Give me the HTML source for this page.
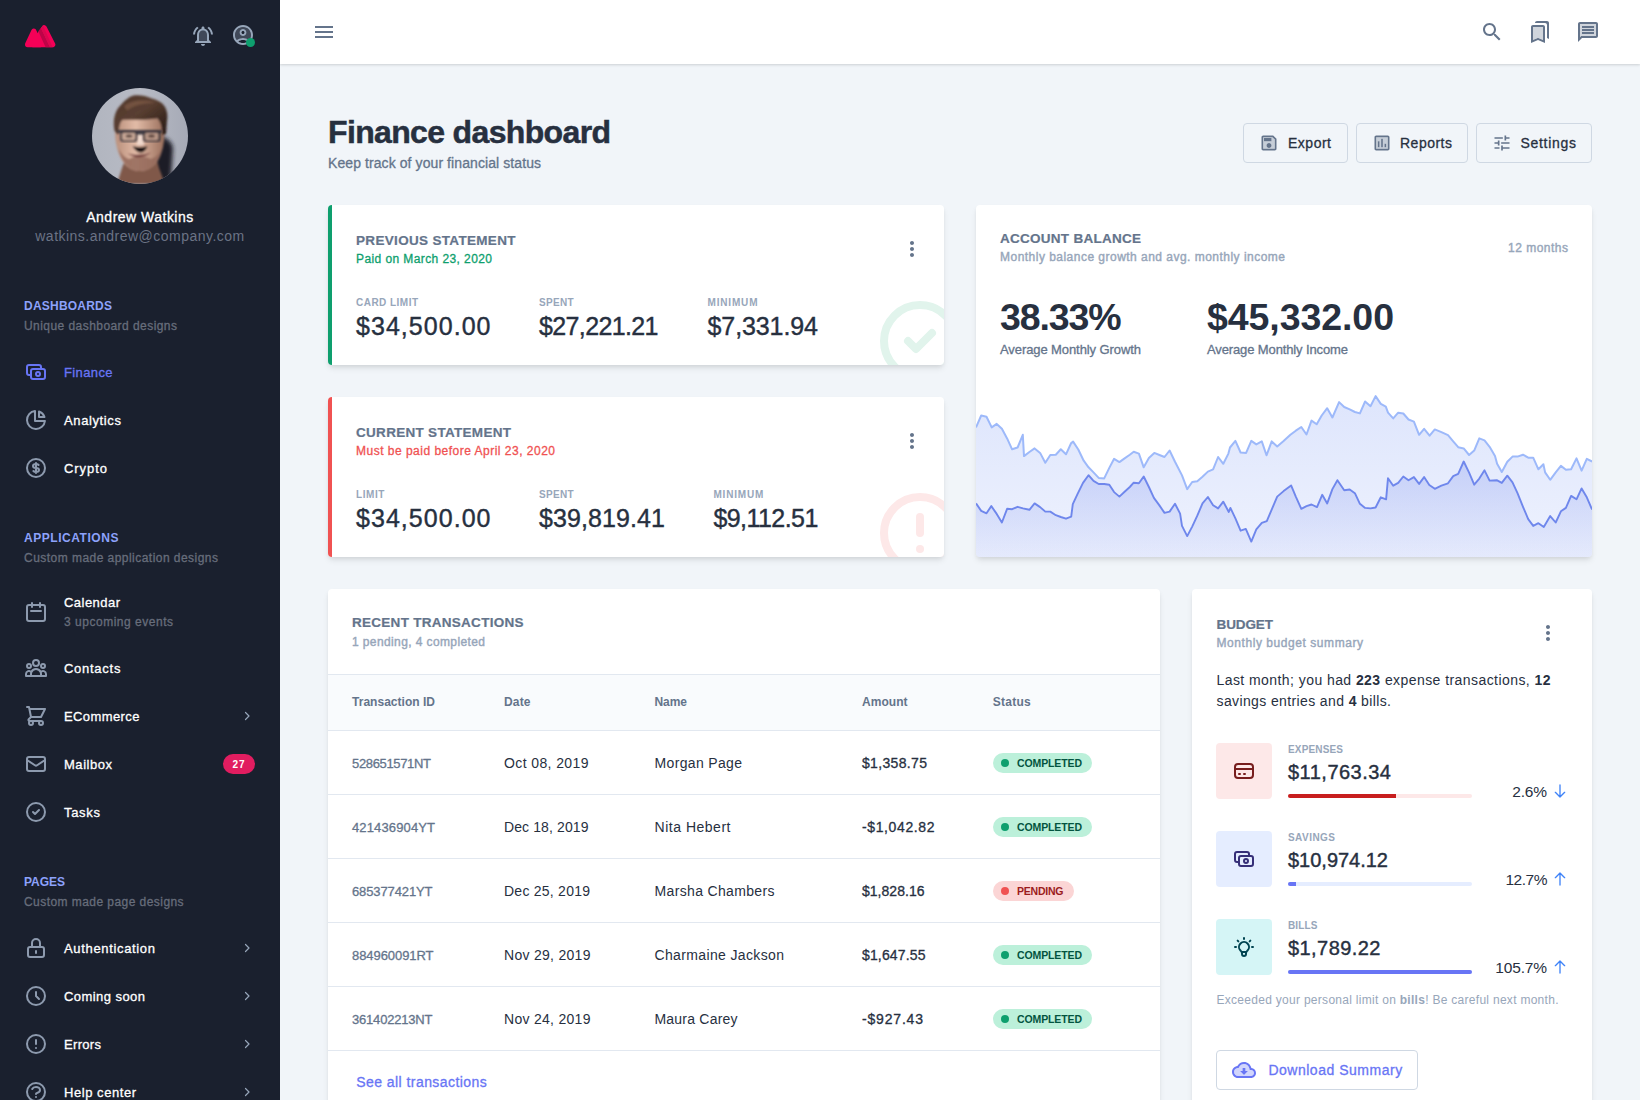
<!DOCTYPE html>
<html lang="en">
<head>
<meta charset="utf-8">
<title>Finance dashboard</title>
<style>
*{box-sizing:border-box;margin:0;padding:0}
html,body{width:1640px;height:1100px;overflow:hidden}
body{font-family:"Liberation Sans", sans-serif;background:#F1F5F9;color:#27303F;position:relative;-webkit-font-smoothing:antialiased}
.t{position:absolute;white-space:nowrap;display:block}
.abs{position:absolute}
.card{position:absolute;background:#fff;border-radius:4px;box-shadow:0 4px 6px -1px rgba(0,0,0,.1),0 2px 4px -1px rgba(0,0,0,.06);overflow:hidden}
.btn{position:absolute;border:1px solid #CFD8E3;border-radius:4px;height:40px}
.badge{position:absolute;height:20px;border-radius:10px}
.dot{position:absolute;width:8px;height:8px;border-radius:50%;left:8px;top:6px}
.row{position:absolute;left:0;width:832px;height:64px;border-bottom:1px solid #E2E8F0}
.bar{position:absolute;height:4px;border-radius:2px;overflow:hidden}
.bar i{position:absolute;left:0;top:0;height:4px;display:block}
.ibox{position:absolute;width:56px;height:56px;border-radius:4px}
</style>
</head>
<body>

<aside class="abs" style="left:0;top:0;width:280px;height:1100px;background:#1A202E;overflow:hidden;z-index:6">
<svg class="abs" style="left:24px;top:24px" width="32" height="24" viewBox="0 0 32 24"><g fill="#F50057" stroke="#F50057" stroke-width="5.400" stroke-linejoin="round"><path d="M3.700 20.500L9.800 7.300 16 20.500z"/><path d="M9 20.500L20.200 3.900 28.600 20.500z"/></g><path d="M14.300 7.300l2.600-3.200 9.100 19.200h-4.400z" fill="#BE0347"/><path d="M16.900 4.100l2.200-2.400 9.600 21.600H26z" fill="#DA0750"/></svg>
<svg style="position:absolute;left:191px;top:24px;" width="24" height="24" viewBox="0 0 24 24" fill="#97A6BA"><path d="M12 6.500c-2.490 0-4 2.020-4 4.500v6h8v-6c0-2.480-1.510-4.500-4-4.500z" opacity="0.3"/><path d="M12 22c1.100 0 2-.9 2-2h-4c0 1.100.9 2 2 2zm6-11c0-3.070-1.630-5.640-4.500-6.320V4c0-.83-.67-1.500-1.500-1.500s-1.500.67-1.500 1.500v.68C7.640 5.360 6 7.920 6 11v5l-2 2v1h16v-1l-2-2v-5zm-2 6H8v-6c0-2.480 1.510-4.500 4-4.500s4 2.020 4 4.500v6zM7.580 4.080L6.150 2.650C3.750 4.480 2.170 7.300 2.030 10.500h2c.15-2.650 1.510-4.970 3.550-6.420zm12.390 6.420h2c-.15-3.200-1.730-6.020-4.120-7.850l-1.420 1.430c2.020 1.450 3.390 3.770 3.540 6.420z"/></svg>
<svg style="position:absolute;left:231px;top:23px;" width="24" height="24" viewBox="0 0 24 24" fill="#97A6BA"><path d="M12 4c-4.420 0-8 3.580-8 8 0 1.950.7 3.730 1.860 5.120C7.550 15.800 9.680 15 12 15s4.450.8 6.140 2.120C19.300 15.730 20 13.950 20 12c0-4.420-3.580-8-8-8zm0 9c-1.940 0-3.500-1.560-3.500-3.500S10.060 6 12 6s3.500 1.560 3.500 3.500S13.940 13 12 13z" opacity="0.3"/><path d="M12 2C6.480 2 2 6.480 2 12s4.480 10 10 10 10-4.480 10-10S17.520 2 12 2zm0 18c-1.740 0-3.340-.56-4.650-1.500C8.660 17.560 10.260 17 12 17s3.340.56 4.650 1.500c-1.310.94-2.910 1.500-4.650 1.500zm6.140-2.880C16.450 15.800 14.320 15 12 15s-4.450.8-6.140 2.120C4.700 15.730 4 13.950 4 12c0-4.420 3.580-8 8-8s8 3.580 8 8c0 1.950-.7 3.730-1.860 5.120z"/><path d="M12 6c-1.940 0-3.500 1.560-3.500 3.500S10.060 13 12 13s3.500-1.560 3.500-3.500S13.940 6 12 6zm0 5c-.83 0-1.500-.67-1.500-1.500S11.170 8 12 8s1.500.67 1.500 1.500S12.830 11 12 11z"/></svg>
<span class="abs" style="left:246px;top:38px;width:9px;height:9px;border-radius:50%;background:#0E9F6E"></span>
<svg class="abs" style="left:92px;top:88px" width="96" height="96" viewBox="0 0 96 96">
<defs><clipPath id="av"><circle cx="48" cy="48" r="48"/></clipPath>
<filter id="bl" x="-10%" y="-10%" width="120%" height="120%"><feGaussianBlur stdDeviation="0.9"/></filter>
<filter id="bl2" x="-20%" y="-20%" width="140%" height="140%"><feGaussianBlur stdDeviation="2.2"/></filter>
<linearGradient id="avbg" x1="0" x2="1" y1="0" y2="0"><stop offset="0" stop-color="#B1B5BF"/><stop offset=".5" stop-color="#B8BBC5"/><stop offset="1" stop-color="#A6AAB6"/></linearGradient>
<linearGradient id="hair" x1="0" x2="1" y1="0" y2="1"><stop offset="0" stop-color="#4E362B"/><stop offset=".45" stop-color="#5A3F31"/><stop offset="1" stop-color="#241814"/></linearGradient>
<linearGradient id="skin" x1="0" x2="1" y1="0" y2="0"><stop offset="0" stop-color="#B98F7B"/><stop offset=".42" stop-color="#E2BBA7"/><stop offset="1" stop-color="#9A6F5C"/></linearGradient></defs>
<g clip-path="url(#av)">
<rect width="96" height="96" fill="url(#avbg)"/>
<g filter="url(#bl2)"><path d="M66 48c7 0 14 5 15 12l-2 32-18 8-4-22z" fill="#1F1C26"/></g>
<g filter="url(#bl)">
<path d="M30 80l3-8h32l2 8 6 16H25z" fill="#80594A"/>
<path d="M23.500 40c-1 8 .5 18 3.500 26 3.500 10 11 17 21 17s17.500-7 21-17c3-8 4-18 3-26-1-8-8-13-24.500-13S24.500 32 23.500 40z" fill="url(#skin)"/>
<path d="M26.500 60c2 13 10.500 23 21.500 23s19-9 21.500-22c-3 6-7 9-11 10-3-3.500-18-3.500-21 0-4-1-9-5-11-11z" fill="#94695A" opacity=".85"/>
<path d="M22.500 43c-2-11 0-21 7.700-27.600C35 10.500 39.500 7.500 43 7.300c6-.6 11 .8 16.200 3C65 12 69.500 14 72 17.400c3 4 4 10 3 15.300l-1 13.300-4 1c0-8-1-12.500-4.700-16.800-8 2-22 1.500-34.600 1.500C28 34 27 38 26.700 47z" fill="url(#hair)"/>
<path d="M32 18c8-6 21-7 31-3-9-.5-20 1.500-28 7.500z" fill="#7E5A47" opacity=".75"/>
<path d="M40.500 58c2 3.500 4.500 6.500 8 6.500s5.500-2.500 7-6.500c-3 1.500-11 1.500-15 0z" fill="#1E1312"/>
<path d="M35.500 65.500c7 5 17 5 23.500-1-6 2.500-16 3-23.500 1z" fill="#6E3838"/>
<path d="M45.500 44h5l1.500 13h-7z" fill="#F4E0D6" opacity=".85"/>
</g>
<g filter="url(#bl)" opacity=".95"><path d="M25 42h45v2.700h-1.500v6.800c0 1.400-1 2.300-2.300 2.300H53.500c-1.300 0-2.300-1-2.300-2.300V46.500h-6v5c0 1.400-1 2.300-2.300 2.300H30.500c-1.300 0-2.300-1-2.300-2.300V44.700H25z" fill="#34323A"/>
<rect x="30.200" y="45" width="13" height="7" rx="1.200" fill="#CBAA9A"/><rect x="53.200" y="45" width="13" height="7" rx="1.200" fill="#BC9A8A"/>
<ellipse cx="37" cy="48" rx="3.500" ry="1.600" fill="#4A3630"/><ellipse cx="59.500" cy="48" rx="3.500" ry="1.600" fill="#4A3630"/></g>
</g></svg>
<span class="t" style="left:140px;transform:translateX(-50%);top:206.50px;font-size:14px;line-height:21px;color:#fff;letter-spacing:0.490px;-webkit-text-stroke:0.3px #fff;">Andrew Watkins</span>
<span class="t" style="left:140px;transform:translateX(-50%);top:225.50px;font-size:14px;line-height:21px;color:#6B7385;letter-spacing:0.487px;">watkins.andrew@company.com</span>
<span class="t" style="left:24px;top:297.00px;font-size:12px;line-height:18px;color:#8DA2FB;font-weight:700;letter-spacing:0.220px;">DASHBOARDS</span>
<span class="t" style="left:24px;top:317.00px;font-size:12px;line-height:18px;color:#676D7B;letter-spacing:0.444px;-webkit-text-stroke:0.3px #676D7B;">Unique dashboard designs</span>
<svg style="position:absolute;left:24px;top:360px;" width="24" height="24" viewBox="0 0 24 24" fill="none" stroke="#6875F5" stroke-width="2" stroke-linecap="round" stroke-linejoin="round"><path d="M17 9V7a2 2 0 00-2-2H5a2 2 0 00-2 2v6a2 2 0 002 2h2m2 4h10a2 2 0 002-2v-6a2 2 0 00-2-2H9a2 2 0 00-2 2v6a2 2 0 002 2zm7-5a2 2 0 11-4 0 2 2 0 014 0z"/></svg>
<span class="t" style="left:64px;top:362.50px;font-size:13px;line-height:20px;color:#6875F5;letter-spacing:0.375px;-webkit-text-stroke:0.3px #6875F5;">Finance</span>
<svg style="position:absolute;left:24px;top:408px;" width="24" height="24" viewBox="0 0 24 24" fill="none" stroke="#8D9AAE" stroke-width="2" stroke-linecap="round" stroke-linejoin="round"><path d="M11 3.055A9.001 9.001 0 1020.945 13H11V3.055z M20.488 9H15V3.512A9.025 9.025 0 0120.488 9z"/></svg>
<span class="t" style="left:64px;top:410.50px;font-size:13px;line-height:20px;color:#fff;letter-spacing:0.621px;-webkit-text-stroke:0.3px #fff;">Analytics</span>
<svg style="position:absolute;left:24px;top:456px;" width="24" height="24" viewBox="0 0 24 24" fill="none" stroke="#8D9AAE" stroke-width="2" stroke-linecap="round" stroke-linejoin="round"><path d="M12 8c-1.657 0-3 .895-3 2s1.343 2 3 2 3 .895 3 2-1.343 2-3 2m0-8c1.11 0 2.08.402 2.599 1M12 8V7m0 1v8m0 0v1m0-1c-1.11 0-2.08-.402-2.599-1M21 12a9 9 0 11-18 0 9 9 0 0118 0z"/></svg>
<span class="t" style="left:64px;top:458.50px;font-size:13px;line-height:20px;color:#fff;letter-spacing:0.941px;-webkit-text-stroke:0.3px #fff;">Crypto</span>
<span class="t" style="left:24px;top:529.00px;font-size:12px;line-height:18px;color:#8DA2FB;font-weight:700;letter-spacing:0.541px;">APPLICATIONS</span>
<span class="t" style="left:24px;top:549.00px;font-size:12px;line-height:18px;color:#676D7B;letter-spacing:0.463px;-webkit-text-stroke:0.3px #676D7B;">Custom made application designs</span>
<svg style="position:absolute;left:24px;top:600px;" width="24" height="24" viewBox="0 0 24 24" fill="none" stroke="#8D9AAE" stroke-width="2" stroke-linecap="round" stroke-linejoin="round"><path d="M8 7V3m8 4V3m-9 8h10M5 21h14a2 2 0 002-2V7a2 2 0 00-2-2H5a2 2 0 00-2 2v12a2 2 0 002 2z"/></svg>
<span class="t" style="left:64px;top:592.50px;font-size:13px;line-height:20px;color:#fff;letter-spacing:0.462px;-webkit-text-stroke:0.3px #fff;">Calendar</span>
<span class="t" style="left:64px;top:613.00px;font-size:12px;line-height:18px;color:#676D7B;letter-spacing:0.517px;-webkit-text-stroke:0.3px #676D7B;">3 upcoming events</span>
<svg style="position:absolute;left:24px;top:656px;" width="24" height="24" viewBox="0 0 24 24" fill="none" stroke="#8D9AAE" stroke-width="2" stroke-linecap="round" stroke-linejoin="round"><path d="M17 20h5v-2a3 3 0 00-5.356-1.857M17 20H7m10 0v-2c0-.656-.126-1.283-.356-1.857M7 20H2v-2a3 3 0 015.356-1.857M7 20v-2c0-.656.126-1.283.356-1.857m0 0a5.002 5.002 0 019.288 0M15 7a3 3 0 11-6 0 3 3 0 016 0zm6 3a2 2 0 11-4 0 2 2 0 014 0zM7 10a2 2 0 11-4 0 2 2 0 014 0z"/></svg>
<span class="t" style="left:64px;top:658.50px;font-size:13px;line-height:20px;color:#fff;letter-spacing:0.727px;-webkit-text-stroke:0.3px #fff;">Contacts</span>
<svg style="position:absolute;left:24px;top:704px;" width="24" height="24" viewBox="0 0 24 24" fill="none" stroke="#8D9AAE" stroke-width="2" stroke-linecap="round" stroke-linejoin="round"><path d="M3 3h2l.4 2M7 13h10l4-8H5.4M7 13L5.4 5M7 13l-2.293 2.293c-.63.63-.184 1.707.707 1.707H17m0 0a2 2 0 100 4 2 2 0 000-4zm-8 2a2 2 0 11-4 0 2 2 0 014 0z"/></svg>
<span class="t" style="left:64px;top:706.50px;font-size:13px;line-height:20px;color:#fff;letter-spacing:0.394px;-webkit-text-stroke:0.3px #fff;">ECommerce</span>
<svg style="position:absolute;left:241px;top:710px;" width="12" height="12" viewBox="0 0 24 24" fill="none" stroke="#97A6BA" stroke-width="2.4" stroke-linecap="round" stroke-linejoin="round"><path d="M9 5l7 7-7 7"/></svg>
<svg style="position:absolute;left:24px;top:752px;" width="24" height="24" viewBox="0 0 24 24" fill="none" stroke="#8D9AAE" stroke-width="2" stroke-linecap="round" stroke-linejoin="round"><path d="M3 8l7.89 5.26a2 2 0 002.22 0L21 8M5 19h14a2 2 0 002-2V7a2 2 0 00-2-2H5a2 2 0 00-2 2v10a2 2 0 002 2z"/></svg>
<span class="t" style="left:64px;top:754.50px;font-size:13px;line-height:20px;color:#fff;letter-spacing:0.534px;-webkit-text-stroke:0.3px #fff;">Mailbox</span>
<span class="abs" style="left:223px;top:754px;width:32px;height:20px;border-radius:10px;background:#E11D60"></span>
<span class="t" style="left:239px;transform:translateX(-50%);top:756.50px;font-size:10px;line-height:15px;color:#fff;font-weight:700;letter-spacing:0.875px;">27</span>
<svg style="position:absolute;left:24px;top:800px;" width="24" height="24" viewBox="0 0 24 24" fill="none" stroke="#8D9AAE" stroke-width="2" stroke-linecap="round" stroke-linejoin="round"><path d="M9 12l2 2 4-4m6 2a9 9 0 11-18 0 9 9 0 0118 0z"/></svg>
<span class="t" style="left:64px;top:802.50px;font-size:13px;line-height:20px;color:#fff;letter-spacing:0.691px;-webkit-text-stroke:0.3px #fff;">Tasks</span>
<span class="t" style="left:24px;top:873.00px;font-size:12px;line-height:18px;color:#8DA2FB;font-weight:700;letter-spacing:-0.031px;">PAGES</span>
<span class="t" style="left:24px;top:893.00px;font-size:12px;line-height:18px;color:#676D7B;letter-spacing:0.443px;-webkit-text-stroke:0.3px #676D7B;">Custom made page designs</span>
<svg style="position:absolute;left:24px;top:936px;" width="24" height="24" viewBox="0 0 24 24" fill="none" stroke="#8D9AAE" stroke-width="2" stroke-linecap="round" stroke-linejoin="round"><path d="M12 15v2m-6 4h12a2 2 0 002-2v-6a2 2 0 00-2-2H6a2 2 0 00-2 2v6a2 2 0 002 2zm10-10V7a4 4 0 00-8 0v4h8z"/></svg>
<span class="t" style="left:64px;top:938.50px;font-size:13px;line-height:20px;color:#fff;letter-spacing:0.661px;-webkit-text-stroke:0.3px #fff;">Authentication</span>
<svg style="position:absolute;left:241px;top:942px;" width="12" height="12" viewBox="0 0 24 24" fill="none" stroke="#97A6BA" stroke-width="2.4" stroke-linecap="round" stroke-linejoin="round"><path d="M9 5l7 7-7 7"/></svg>
<svg style="position:absolute;left:24px;top:984px;" width="24" height="24" viewBox="0 0 24 24" fill="none" stroke="#8D9AAE" stroke-width="2" stroke-linecap="round" stroke-linejoin="round"><path d="M12 8v4l3 3m6-3a9 9 0 11-18 0 9 9 0 0118 0z"/></svg>
<span class="t" style="left:64px;top:986.50px;font-size:13px;line-height:20px;color:#fff;letter-spacing:0.439px;-webkit-text-stroke:0.3px #fff;">Coming soon</span>
<svg style="position:absolute;left:241px;top:990px;" width="12" height="12" viewBox="0 0 24 24" fill="none" stroke="#97A6BA" stroke-width="2.4" stroke-linecap="round" stroke-linejoin="round"><path d="M9 5l7 7-7 7"/></svg>
<svg style="position:absolute;left:24px;top:1032px;" width="24" height="24" viewBox="0 0 24 24" fill="none" stroke="#8D9AAE" stroke-width="2" stroke-linecap="round" stroke-linejoin="round"><path d="M12 8v4m0 4h.01M21 12a9 9 0 11-18 0 9 9 0 0118 0z"/></svg>
<span class="t" style="left:64px;top:1034.50px;font-size:13px;line-height:20px;color:#fff;letter-spacing:0.322px;-webkit-text-stroke:0.3px #fff;">Errors</span>
<svg style="position:absolute;left:241px;top:1038px;" width="12" height="12" viewBox="0 0 24 24" fill="none" stroke="#97A6BA" stroke-width="2.4" stroke-linecap="round" stroke-linejoin="round"><path d="M9 5l7 7-7 7"/></svg>
<svg style="position:absolute;left:24px;top:1080px;" width="24" height="24" viewBox="0 0 24 24" fill="none" stroke="#8D9AAE" stroke-width="2" stroke-linecap="round" stroke-linejoin="round"><path d="M8.228 9c.549-1.165 2.03-2 3.772-2 2.21 0 4 1.343 4 3 0 1.4-1.278 2.575-3.006 2.907-.542.104-.994.54-.994 1.093m0 3h.01M21 12a9 9 0 11-18 0 9 9 0 0118 0z"/></svg>
<span class="t" style="left:64px;top:1082.50px;font-size:13px;line-height:20px;color:#fff;letter-spacing:0.552px;-webkit-text-stroke:0.3px #fff;">Help center</span>
<svg style="position:absolute;left:241px;top:1086px;" width="12" height="12" viewBox="0 0 24 24" fill="none" stroke="#97A6BA" stroke-width="2.4" stroke-linecap="round" stroke-linejoin="round"><path d="M9 5l7 7-7 7"/></svg>
</aside>
<header class="abs" style="left:280px;top:0;width:1360px;height:64px;background:#fff;box-shadow:0 1px 3px rgba(0,0,0,.1),0 1px 2px rgba(0,0,0,.06);z-index:5">
<svg style="position:absolute;left:32px;top:20px;" width="24" height="24" viewBox="0 0 24 24" fill="#64748B"><path d="M3 18h18v-2H3v2zm0-5h18v-2H3v2zm0-7v2h18V6H3z"/></svg>
<svg style="position:absolute;left:1200px;top:20px;" width="24" height="24" viewBox="0 0 24 24" fill="#64748B"><path d="M15.5 14h-.79l-.28-.27C15.41 12.59 16 11.11 16 9.5 16 5.91 13.09 3 9.5 3S3 5.91 3 9.5 5.91 16 9.5 16c1.61 0 3.09-.59 4.23-1.57l.27.28v.79l5 4.99L20.49 19l-4.99-5zm-6 0C7.01 14 5 11.99 5 9.5S7.01 5 9.5 5 14 7.01 14 9.5 11.99 14 9.5 14z"/></svg>
<svg style="position:absolute;left:1248px;top:20px;" width="24" height="24" viewBox="0 0 24 24" fill="#64748B"><path d="M19 1H8.99C7.89 1 7 1.9 7 3h10c1.1 0 2 .9 2 2v13l2 1V3c0-1.1-.9-2-2-2z"/><path d="M15 5H5c-1.1 0-2 .9-2 2v16l7-3 7 3V7c0-1.1-.9-2-2-2zm0 14.97l-4.21-1.81-.79-.34-.79.34L5 19.97V7h10v12.970z"/><path d="M5 19.97l5-2.150 5 2.150V7H5z" opacity="0.3"/></svg>
<svg style="position:absolute;left:1296px;top:20px;" width="24" height="24" viewBox="0 0 24 24" fill="#64748B"><path d="M20 2H4c-1.1 0-2 .9-2 2v18l4-4h14c1.1 0 2-.9 2-2V4c0-1.1-.9-2-2-2zm0 14H5.170L4 17.170V4h16v12z"/><path d="M4 4v13.170L5.170 16H20V4H4zm14 10H6v-2h12v2zm0-3H6V9h12v2zm0-3H6V6h12v2z" opacity="0.3"/><path d="M6 12h12v2H6zm0-3h12v2H6zm0-3h12v2H6z"/></svg>
</header>
<main class="abs" style="left:0;top:0;width:1640px;height:1100px">
<span class="t" style="left:328px;top:112.00px;font-size:32px;line-height:40px;color:#27303F;font-weight:700;letter-spacing:-0.649px;-webkit-text-stroke:0.5px #27303F;">Finance dashboard</span>
<span class="t" style="left:328px;top:152.50px;font-size:14px;line-height:21px;color:#64748B;letter-spacing:0.085px;-webkit-text-stroke:0.3px #64748B;">Keep track of your financial status</span>
<div class="btn" style="left:1243px;top:123px;width:104.5px">
<svg style="position:absolute;left:15px;top:9px;" width="20" height="20" viewBox="0 0 24 24" fill="#64748B"><path d="M5 5v14h14V7.830L16.170 5H5zm7 13c-1.660 0-3-1.340-3-3s1.340-3 3-3 3 1.340 3 3-1.340 3-3 3zm3-8H6V6h9v4z" opacity="0.3"/><path d="M17 3H5c-1.110 0-2 .9-2 2v14c0 1.100.89 2 2 2h14c1.100 0 2-.9 2-2V7l-4-4zm2 16H5V5h11.170L19 7.830V19zm-7-7c-1.660 0-3 1.340-3 3s1.340 3 3 3 3-1.340 3-3-1.340-3-3-3zM6 6h9v4H6z"/></svg>
<span class="t" style="left:44px;top:8.50px;font-size:14px;line-height:21px;color:#27303F;letter-spacing:0.506px;-webkit-text-stroke:0.3px #27303F;">Export</span>
</div>
<div class="btn" style="left:1356px;top:123px;width:111.5px">
<svg style="position:absolute;left:15px;top:9px;" width="20" height="20" viewBox="0 0 24 24" fill="#64748B"><path d="M5 5v14h14V5H5zm4 12H7v-7h2v7zm4 0h-2V7h2v10zm4 0h-2v-4h2v4z" opacity="0.3"/><path d="M19 3H5c-1.100 0-2 .9-2 2v14c0 1.100.9 2 2 2h14c1.100 0 2-.9 2-2V5c0-1.100-.9-2-2-2zm0 16H5V5h14v14zM7 10h2v7H7zm4-3h2v10h-2zm4 6h2v4h-2z"/></svg>
<span class="t" style="left:43px;top:8.50px;font-size:14px;line-height:21px;color:#27303F;letter-spacing:0.495px;-webkit-text-stroke:0.3px #27303F;">Reports</span>
</div>
<div class="btn" style="left:1476px;top:123px;width:116px">
<svg style="position:absolute;left:15px;top:9px;" width="20" height="20" viewBox="0 0 24 24" fill="#64748B"><path d="M3 17v2h6v-2H3zM3 5v2h10V5H3zm10 16v-2h8v-2h-8v-2h-2v6h2zM7 9v2H3v2h4v2h2V9H7zm14 4v-2H11v2h10zm-6-4h2V7h4V5h-4V3h-2v6z"/></svg>
<span class="t" style="left:43.5px;top:8.50px;font-size:14px;line-height:21px;color:#27303F;letter-spacing:0.701px;-webkit-text-stroke:0.3px #27303F;">Settings</span>
</div>
<section class="card" style="left:328px;top:205px;width:616px;height:160px">
<span class="abs" style="left:0;top:0;width:4px;height:160px;background:#0E9F6E"></span>
<span class="t" style="left:28px;top:25.50px;font-size:13.5px;line-height:20px;color:#64748B;font-weight:700;letter-spacing:0.323px;-webkit-text-stroke:0.2px #64748B;">PREVIOUS STATEMENT</span>
<span class="t" style="left:28px;top:45.00px;font-size:12px;line-height:18px;color:#0E9F6E;letter-spacing:0.408px;-webkit-text-stroke:0.3px #0E9F6E;">Paid on March 23, 2020</span>
<svg style="position:absolute;left:572px;top:32px;" width="24" height="24" viewBox="0 0 24 24" fill="#64748B"><path d="M12 8c1.100 0 2-.9 2-2s-.9-2-2-2-2 .9-2 2 .9 2 2 2zm0 2c-1.100 0-2 .9-2 2s.9 2 2 2 2-.9 2-2-.9-2-2-2zm0 6c-1.100 0-2 .9-2 2s.9 2 2 2 2-.9 2-2-.9-2-2-2z"/></svg>
<span class="t" style="left:28px;top:90.00px;font-size:10px;line-height:15px;color:#97A6BA;font-weight:700;letter-spacing:0.469px;">CARD LIMIT</span>
<span class="t" style="left:28px;top:105.00px;font-size:25px;line-height:32px;color:#27303F;letter-spacing:1.042px;-webkit-text-stroke:0.4px #27303F;">$34,500.00</span>
<span class="t" style="left:211px;top:90.00px;font-size:10px;line-height:15px;color:#97A6BA;font-weight:700;letter-spacing:0.289px;">SPENT</span>
<span class="t" style="left:211px;top:105.00px;font-size:25px;line-height:32px;color:#27303F;letter-spacing:-0.625px;-webkit-text-stroke:0.4px #27303F;">$27,221.21</span>
<span class="t" style="left:379.5px;top:90.00px;font-size:10px;line-height:15px;color:#97A6BA;font-weight:700;letter-spacing:0.833px;">MINIMUM</span>
<span class="t" style="left:379.5px;top:105.00px;font-size:25px;line-height:32px;color:#27303F;letter-spacing:-0.090px;-webkit-text-stroke:0.4px #27303F;">$7,331.94</span>
<svg style="position:absolute;left:544px;top:88px;" width="96" height="96" viewBox="0 0 24 24" fill="none" stroke="#E1F4EC" stroke-width="2" stroke-linecap="round" stroke-linejoin="round"><path d="M9 12l2 2 4-4m6 2a9 9 0 11-18 0 9 9 0 0118 0z"/></svg>
</section>
<section class="card" style="left:328px;top:397px;width:616px;height:160px">
<span class="abs" style="left:0;top:0;width:4px;height:160px;background:#F05252"></span>
<span class="t" style="left:28px;top:25.50px;font-size:13.5px;line-height:20px;color:#64748B;font-weight:700;letter-spacing:0.297px;-webkit-text-stroke:0.2px #64748B;">CURRENT STATEMENT</span>
<span class="t" style="left:28px;top:45.00px;font-size:12px;line-height:18px;color:#F05252;letter-spacing:0.491px;-webkit-text-stroke:0.3px #F05252;">Must be paid before April 23, 2020</span>
<svg style="position:absolute;left:572px;top:32px;" width="24" height="24" viewBox="0 0 24 24" fill="#64748B"><path d="M12 8c1.100 0 2-.9 2-2s-.9-2-2-2-2 .9-2 2 .9 2 2 2zm0 2c-1.100 0-2 .9-2 2s.9 2 2 2 2-.9 2-2-.9-2-2-2zm0 6c-1.100 0-2 .9-2 2s.9 2 2 2 2-.9 2-2-.9-2-2-2z"/></svg>
<span class="t" style="left:28px;top:90.00px;font-size:10px;line-height:15px;color:#97A6BA;font-weight:700;letter-spacing:0.573px;">LIMIT</span>
<span class="t" style="left:28px;top:105.00px;font-size:25px;line-height:32px;color:#27303F;letter-spacing:1.042px;-webkit-text-stroke:0.4px #27303F;">$34,500.00</span>
<span class="t" style="left:211px;top:90.00px;font-size:10px;line-height:15px;color:#97A6BA;font-weight:700;letter-spacing:0.289px;">SPENT</span>
<span class="t" style="left:211px;top:105.00px;font-size:25px;line-height:32px;color:#27303F;letter-spacing:0.097px;-webkit-text-stroke:0.4px #27303F;">$39,819.41</span>
<span class="t" style="left:385.4px;top:90.00px;font-size:10px;line-height:15px;color:#97A6BA;font-weight:700;letter-spacing:0.833px;">MINIMUM</span>
<span class="t" style="left:385.4px;top:105.00px;font-size:25px;line-height:32px;color:#27303F;letter-spacing:-0.547px;-webkit-text-stroke:0.4px #27303F;">$9,112.51</span>
<svg style="position:absolute;left:544px;top:88px;" width="96" height="96" viewBox="0 0 24 24" fill="none" stroke="#FDE8E8" stroke-width="2" stroke-linecap="round" stroke-linejoin="round"><path d="M12 8v4m0 4h.01M21 12a9 9 0 11-18 0 9 9 0 0118 0z"/></svg>
</section>
<section class="card" style="left:976px;top:205px;width:616px;height:352px">
<span class="t" style="left:24px;top:23.75px;font-size:13.5px;line-height:20px;color:#64748B;font-weight:700;letter-spacing:0.268px;-webkit-text-stroke:0.2px #64748B;">ACCOUNT BALANCE</span>
<span class="t" style="left:24px;top:43.00px;font-size:12px;line-height:18px;color:#97A6BA;letter-spacing:0.478px;-webkit-text-stroke:0.4px #97A6BA;">Monthly balance growth and avg. monthly income</span>
<span class="t" style="left:532px;top:34.00px;font-size:12px;line-height:18px;color:#97A6BA;letter-spacing:0.494px;-webkit-text-stroke:0.4px #97A6BA;">12 months</span>
<span class="t" style="left:24px;top:90.00px;font-size:37.5px;line-height:44px;color:#27303F;font-weight:700;letter-spacing:-1.137px;">38.33%</span>
<span class="t" style="left:231px;top:90.00px;font-size:37.5px;line-height:44px;color:#27303F;font-weight:700;letter-spacing:-0.076px;">$45,332.00</span>
<span class="t" style="left:24px;top:135.10px;font-size:13px;line-height:20px;color:#64748B;letter-spacing:-0.088px;-webkit-text-stroke:0.3px #64748B;">Average Monthly Growth</span>
<span class="t" style="left:231px;top:135.10px;font-size:13px;line-height:20px;color:#64748B;letter-spacing:-0.122px;-webkit-text-stroke:0.3px #64748B;">Average Monthly Income</span>
<svg class="abs" style="left:0;top:0" width="616" height="352" viewBox="0 0 616 352">
<defs>
<linearGradient id="g1" x1="0" y1="0" x2="0" y2="1"><stop offset="0" stop-color="#CED9FB" stop-opacity=".68"/><stop offset="1" stop-color="#CED9FB" stop-opacity=".34"/></linearGradient>
<linearGradient id="g2" x1="0" y1="0" x2="0" y2="1"><stop offset="0" stop-color="#667EEA" stop-opacity=".25"/><stop offset="1" stop-color="#667EEA" stop-opacity=".07"/></linearGradient>
</defs>
<path d="M0,222.4 L5.2,210.5 L10.5,211.8 L15.7,222.4 L20.7,218.9 L25.9,223.8 L31.1,233.4 L36.1,244.3 L41.6,242.5 L46.8,229.8 L48,251.1 L53.4,247 L58.6,243.4 L64.1,247.9 L69.3,257.8 L74.3,250 L79.8,249.7 L84.8,244.3 L90,249.3 L95.2,238 L97.1,236.6 L102.3,244.5 L107.7,255.7 L112.5,262.3 L117.5,267.4 L122.7,272.9 L128.2,273.4 L133.3,262.9 L138.1,253.8 L143.4,257.1 L148.6,253.4 L153.8,249.7 L157.7,246.7 L162.9,248.6 L167.7,262.3 L172.9,253 L178.3,247.9 L183.4,250 L188.5,252 L193.6,245.5 L199,256.8 L206,270.4 L211.2,284.1 L216.2,277 L221.3,276.2 L226.5,271.8 L231.9,266.6 L237.1,264.4 L242.1,252 L247.3,258.8 L252.4,248.6 L254,242.5 L259.4,235.9 L264.6,247.5 L270.1,247.9 L275.3,235.9 L280.3,239.4 L285.8,236.4 L290.5,250.3 L295.7,236.4 L301.2,241.5 L307.6,236.1 L314.4,229.8 L319.8,225.7 L325.3,222 L330.5,229.5 L335.5,215.6 L340.7,219.3 L345.7,210.5 L351.2,203.2 L356.4,212.5 L363.1,197.1 L368.2,202 L373.7,204.3 L378.9,207 L383.9,208.4 L389.1,196.5 L394.5,201.2 L399.6,191.1 L404.8,198.9 L409.8,201.6 L412,207.7 L417.2,213.4 L422.2,207.7 L427.3,208.5 L432.5,214.5 L437.9,216.6 L443.1,229.8 L448.1,223.8 L453.6,230.6 L458.8,224.4 L465.4,227.1 L472,230.2 L477.2,236.4 L482.2,242.2 L487.7,243.4 L493.1,250 L498.2,245.6 L503.3,233.4 L508.5,235.4 L513.6,241.8 L519,251.1 L521.1,258.8 L525.8,267 L531.3,256.8 L536.5,251.6 L541.5,251.6 L547,249.7 L552.2,252.7 L557.2,252.7 L562.4,264.3 L567.4,259.3 L569.1,267.4 L574.2,274.8 L579.7,267.4 L584.9,260.9 L589.9,264.7 L595.1,264.3 L600.5,253.4 L605.6,265.7 L610.8,253.8 L616.1,256.5 L616,352 L0,352 Z" fill="url(#g1)"/>
<path d="M0,298.4 L5.2,305.9 L10.5,308.3 L15.3,301.1 L20.7,308.9 L25.9,317.5 L31.1,303.8 L36.1,304.2 L41.6,301.8 L47,303.4 L53.4,304.8 L58.6,298.4 L64.1,302.1 L69.3,306.6 L74.3,306.6 L79.8,310.2 L84.8,312 L90,313.7 L95.2,311.7 L96.8,299.1 L101.6,288.8 L107,277.9 L112.5,270.2 L117.5,275.9 L122.7,279 L128.2,279 L133.3,279.7 L138.1,287.1 L143.4,291.6 L148.6,286.8 L153.8,282 L157.7,277.7 L162.9,278.3 L167.7,271.5 L172.9,282 L177.9,292.9 L183.4,300.4 L188.5,307.9 L193.6,306.6 L199,298.7 L204.1,308.6 L206,320.9 L211.2,331.1 L216.2,321.6 L221.3,310.7 L226.5,298.4 L231.9,292 L237.1,300.2 L242.1,303.4 L247.3,296.7 L252.8,307 L254.4,302.9 L259.4,313.4 L264.6,325.7 L269.8,323.9 L275.3,336.6 L280.3,324.3 L285.8,317.9 L290.8,316.1 L296,303.8 L301.2,291.6 L307.6,286.1 L315.1,280.4 L319.8,291.6 L325.3,303.8 L330.5,301.1 L335.5,299.5 L341,302.1 L346.2,289.8 L351.2,298.4 L356.4,284.1 L361.4,275.2 L365.5,281.3 L368.2,285.2 L373.7,284.5 L378.9,288.2 L383.9,298.8 L389.1,302.9 L394.5,303.4 L399.6,302.5 L404.8,292.3 L410.1,294.3 L412,273.2 L417.2,280.7 L422.2,277.9 L427.3,271.5 L432.5,275.2 L437.9,272.1 L443.1,278.9 L448.1,272.1 L453.3,280 L458.8,283.8 L465.4,280.7 L472,278.3 L477.2,271.1 L482.2,268.8 L487.7,256.5 L493.1,267.7 L498.2,279.7 L503.3,273.6 L508.5,265.3 L513.6,275.6 L520.7,275.2 L525.8,277.9 L531.3,270.7 L536.5,277.3 L541.5,288.2 L547,301.8 L552.2,314.1 L557.2,320.9 L562.4,318.2 L567.8,322 L574.2,311.1 L579.7,317.5 L584.9,306.3 L589.9,302.9 L595.1,290.9 L600.5,294.3 L605.6,283.4 L610.8,292.3 L616.1,304.5 L616,352 L0,352 Z" fill="url(#g2)"/>
<path d="M0,222.4 L5.2,210.5 L10.5,211.8 L15.7,222.4 L20.7,218.9 L25.9,223.8 L31.1,233.4 L36.1,244.3 L41.6,242.5 L46.8,229.8 L48,251.1 L53.4,247 L58.6,243.4 L64.1,247.9 L69.3,257.8 L74.3,250 L79.8,249.7 L84.8,244.3 L90,249.3 L95.2,238 L97.1,236.6 L102.3,244.5 L107.7,255.7 L112.5,262.3 L117.5,267.4 L122.7,272.9 L128.2,273.4 L133.3,262.9 L138.1,253.8 L143.4,257.1 L148.6,253.4 L153.8,249.7 L157.7,246.7 L162.9,248.6 L167.7,262.3 L172.9,253 L178.3,247.9 L183.4,250 L188.5,252 L193.6,245.5 L199,256.8 L206,270.4 L211.2,284.1 L216.2,277 L221.3,276.2 L226.5,271.8 L231.9,266.6 L237.1,264.4 L242.1,252 L247.3,258.8 L252.4,248.6 L254,242.5 L259.4,235.9 L264.6,247.5 L270.1,247.9 L275.3,235.9 L280.3,239.4 L285.8,236.4 L290.5,250.3 L295.7,236.4 L301.2,241.5 L307.6,236.1 L314.4,229.8 L319.8,225.7 L325.3,222 L330.5,229.5 L335.5,215.6 L340.7,219.3 L345.7,210.5 L351.2,203.2 L356.4,212.5 L363.1,197.1 L368.2,202 L373.7,204.3 L378.9,207 L383.9,208.4 L389.1,196.5 L394.5,201.2 L399.6,191.1 L404.8,198.9 L409.8,201.6 L412,207.7 L417.2,213.4 L422.2,207.7 L427.3,208.5 L432.5,214.5 L437.9,216.6 L443.1,229.8 L448.1,223.8 L453.6,230.6 L458.8,224.4 L465.4,227.1 L472,230.2 L477.2,236.4 L482.2,242.2 L487.7,243.4 L493.1,250 L498.2,245.6 L503.3,233.4 L508.5,235.4 L513.6,241.8 L519,251.1 L521.1,258.8 L525.8,267 L531.3,256.8 L536.5,251.6 L541.5,251.6 L547,249.7 L552.2,252.7 L557.2,252.7 L562.4,264.3 L567.4,259.3 L569.1,267.4 L574.2,274.8 L579.7,267.4 L584.9,260.9 L589.9,264.7 L595.1,264.3 L600.5,253.4 L605.6,265.7 L610.8,253.8 L616.1,256.5" fill="none" stroke="#9DB9FA" stroke-width="2" stroke-linejoin="round"/>
<path d="M0,298.4 L5.2,305.9 L10.5,308.3 L15.3,301.1 L20.7,308.9 L25.9,317.5 L31.1,303.8 L36.1,304.2 L41.6,301.8 L47,303.4 L53.4,304.8 L58.6,298.4 L64.1,302.1 L69.3,306.6 L74.3,306.6 L79.8,310.2 L84.8,312 L90,313.7 L95.2,311.7 L96.8,299.1 L101.6,288.8 L107,277.9 L112.5,270.2 L117.5,275.9 L122.7,279 L128.2,279 L133.3,279.7 L138.1,287.1 L143.4,291.6 L148.6,286.8 L153.8,282 L157.7,277.7 L162.9,278.3 L167.7,271.5 L172.9,282 L177.9,292.9 L183.4,300.4 L188.5,307.9 L193.6,306.6 L199,298.7 L204.1,308.6 L206,320.9 L211.2,331.1 L216.2,321.6 L221.3,310.7 L226.5,298.4 L231.9,292 L237.1,300.2 L242.1,303.4 L247.3,296.7 L252.8,307 L254.4,302.9 L259.4,313.4 L264.6,325.7 L269.8,323.9 L275.3,336.6 L280.3,324.3 L285.8,317.9 L290.8,316.1 L296,303.8 L301.2,291.6 L307.6,286.1 L315.1,280.4 L319.8,291.6 L325.3,303.8 L330.5,301.1 L335.5,299.5 L341,302.1 L346.2,289.8 L351.2,298.4 L356.4,284.1 L361.4,275.2 L365.5,281.3 L368.2,285.2 L373.7,284.5 L378.9,288.2 L383.9,298.8 L389.1,302.9 L394.5,303.4 L399.6,302.5 L404.8,292.3 L410.1,294.3 L412,273.2 L417.2,280.7 L422.2,277.9 L427.3,271.5 L432.5,275.2 L437.9,272.1 L443.1,278.9 L448.1,272.1 L453.3,280 L458.8,283.8 L465.4,280.7 L472,278.3 L477.2,271.1 L482.2,268.8 L487.7,256.5 L493.1,267.7 L498.2,279.7 L503.3,273.6 L508.5,265.3 L513.6,275.6 L520.7,275.2 L525.8,277.9 L531.3,270.7 L536.5,277.3 L541.5,288.2 L547,301.8 L552.2,314.1 L557.2,320.9 L562.4,318.2 L567.8,322 L574.2,311.1 L579.7,317.5 L584.9,306.3 L589.9,302.9 L595.1,290.9 L600.5,294.3 L605.6,283.4 L610.8,292.3 L616.1,304.5" fill="none" stroke="#6F87EC" stroke-width="1.900" stroke-linejoin="round"/>
</svg>
</section>
<section class="card" style="left:328px;top:589px;width:832px;height:540px">
<span class="t" style="left:24px;top:23.50px;font-size:13.5px;line-height:20px;color:#64748B;font-weight:700;letter-spacing:0.277px;-webkit-text-stroke:0.2px #64748B;">RECENT TRANSACTIONS</span>
<span class="t" style="left:24px;top:43.50px;font-size:12px;line-height:18px;color:#97A6BA;letter-spacing:0.392px;-webkit-text-stroke:0.4px #97A6BA;">1 pending, 4 completed</span>
<div class="abs" style="left:0;top:85px;width:832px;height:57px;background:#F9FBFD;border-top:1px solid #E2E8F0;border-bottom:1px solid #E2E8F0"></div>
<span class="t" style="left:24px;top:104.00px;font-size:12px;line-height:18px;color:#64748B;font-weight:700;letter-spacing:0.024px;">Transaction ID</span>
<span class="t" style="left:176px;top:104.00px;font-size:12px;line-height:18px;color:#64748B;font-weight:700;letter-spacing:0.161px;">Date</span>
<span class="t" style="left:326.5px;top:104.00px;font-size:12px;line-height:18px;color:#64748B;font-weight:700;letter-spacing:-0.062px;">Name</span>
<span class="t" style="left:534px;top:104.00px;font-size:12px;line-height:18px;color:#64748B;font-weight:700;letter-spacing:0.034px;">Amount</span>
<span class="t" style="left:664.7px;top:104.00px;font-size:12px;line-height:18px;color:#64748B;font-weight:700;letter-spacing:0.263px;">Status</span>
<div class="row" style="top:142px">
<span class="t" style="left:24px;top:22.50px;font-size:13px;line-height:20px;color:#64748B;letter-spacing:-0.341px;-webkit-text-stroke:0.3px #64748B;">528651571NT</span>
<span class="t" style="left:176px;top:21.50px;font-size:14px;line-height:21px;color:#27303F;letter-spacing:0.393px;">Oct 08, 2019</span>
<span class="t" style="left:326.5px;top:21.50px;font-size:14px;line-height:21px;color:#27303F;letter-spacing:0.344px;">Morgan Page</span>
<span class="t" style="left:534px;top:21.50px;font-size:14px;line-height:21px;color:#27303F;letter-spacing:0.338px;-webkit-text-stroke:0.3px #27303F;">$1,358.75</span>
<span class="badge" style="left:664.7px;top:22px;width:99.500px;background:#BCF0DA"><i class="dot" style="background:#0E9F6E"></i>
<span class="t" style="left:24.3px;top:3.00px;font-size:10.5px;line-height:14px;color:#03543F;font-weight:700;letter-spacing:-0.115px;">COMPLETED</span>
</span></div>
<div class="row" style="top:206px">
<span class="t" style="left:24px;top:22.50px;font-size:13px;line-height:20px;color:#64748B;letter-spacing:0.131px;-webkit-text-stroke:0.3px #64748B;">421436904YT</span>
<span class="t" style="left:176px;top:21.50px;font-size:14px;line-height:21px;color:#27303F;letter-spacing:0.109px;">Dec 18, 2019</span>
<span class="t" style="left:326.5px;top:21.50px;font-size:14px;line-height:21px;color:#27303F;letter-spacing:0.519px;">Nita Hebert</span>
<span class="t" style="left:534px;top:21.50px;font-size:14px;line-height:21px;color:#27303F;letter-spacing:0.616px;-webkit-text-stroke:0.3px #27303F;">-$1,042.82</span>
<span class="badge" style="left:664.7px;top:22px;width:99.500px;background:#BCF0DA"><i class="dot" style="background:#0E9F6E"></i>
<span class="t" style="left:24.3px;top:3.00px;font-size:10.5px;line-height:14px;color:#03543F;font-weight:700;letter-spacing:-0.115px;">COMPLETED</span>
</span></div>
<div class="row" style="top:270px">
<span class="t" style="left:24px;top:22.50px;font-size:13px;line-height:20px;color:#64748B;letter-spacing:-0.119px;-webkit-text-stroke:0.3px #64748B;">685377421YT</span>
<span class="t" style="left:176px;top:21.50px;font-size:14px;line-height:21px;color:#27303F;letter-spacing:0.246px;">Dec 25, 2019</span>
<span class="t" style="left:326.5px;top:21.50px;font-size:14px;line-height:21px;color:#27303F;letter-spacing:0.346px;">Marsha Chambers</span>
<span class="t" style="left:534px;top:21.50px;font-size:14px;line-height:21px;color:#27303F;letter-spacing:0.025px;-webkit-text-stroke:0.3px #27303F;">$1,828.16</span>
<span class="badge" style="left:664.7px;top:22px;width:81px;background:#FBD5D5"><i class="dot" style="background:#F05252"></i>
<span class="t" style="left:24.3px;top:3.00px;font-size:10.5px;line-height:14px;color:#9B1C1C;font-weight:700;letter-spacing:-0.224px;">PENDING</span>
</span></div>
<div class="row" style="top:334px">
<span class="t" style="left:24px;top:22.50px;font-size:13px;line-height:20px;color:#64748B;letter-spacing:-0.067px;-webkit-text-stroke:0.3px #64748B;">884960091RT</span>
<span class="t" style="left:176px;top:21.50px;font-size:14px;line-height:21px;color:#27303F;letter-spacing:0.291px;">Nov 29, 2019</span>
<span class="t" style="left:326.5px;top:21.50px;font-size:14px;line-height:21px;color:#27303F;letter-spacing:0.360px;">Charmaine Jackson</span>
<span class="t" style="left:534px;top:21.50px;font-size:14px;line-height:21px;color:#27303F;letter-spacing:0.150px;-webkit-text-stroke:0.3px #27303F;">$1,647.55</span>
<span class="badge" style="left:664.7px;top:22px;width:99.500px;background:#BCF0DA"><i class="dot" style="background:#0E9F6E"></i>
<span class="t" style="left:24.3px;top:3.00px;font-size:10.5px;line-height:14px;color:#03543F;font-weight:700;letter-spacing:-0.115px;">COMPLETED</span>
</span></div>
<div class="row" style="top:398px">
<span class="t" style="left:24px;top:22.50px;font-size:13px;line-height:20px;color:#64748B;letter-spacing:-0.191px;-webkit-text-stroke:0.3px #64748B;">361402213NT</span>
<span class="t" style="left:176px;top:21.50px;font-size:14px;line-height:21px;color:#27303F;letter-spacing:0.291px;">Nov 24, 2019</span>
<span class="t" style="left:326.5px;top:21.50px;font-size:14px;line-height:21px;color:#27303F;letter-spacing:0.208px;">Maura Carey</span>
<span class="t" style="left:534px;top:21.50px;font-size:14px;line-height:21px;color:#27303F;letter-spacing:0.817px;-webkit-text-stroke:0.3px #27303F;">-$927.43</span>
<span class="badge" style="left:664.7px;top:22px;width:99.500px;background:#BCF0DA"><i class="dot" style="background:#0E9F6E"></i>
<span class="t" style="left:24.3px;top:3.00px;font-size:10.5px;line-height:14px;color:#03543F;font-weight:700;letter-spacing:-0.115px;">COMPLETED</span>
</span></div>
<span class="t" style="left:28.3px;top:482.50px;font-size:14px;line-height:21px;color:#6875F5;letter-spacing:0.438px;-webkit-text-stroke:0.3px #6875F5;">See all transactions</span>
</section>
<section class="card" style="left:1192px;top:589px;width:400px;height:540px">
<span class="t" style="left:24.5px;top:25.50px;font-size:13.5px;line-height:20px;color:#64748B;font-weight:700;letter-spacing:-0.100px;-webkit-text-stroke:0.2px #64748B;">BUDGET</span>
<span class="t" style="left:24.5px;top:45.30px;font-size:12px;line-height:18px;color:#97A6BA;letter-spacing:0.560px;-webkit-text-stroke:0.4px #97A6BA;">Monthly budget summary</span>
<svg style="position:absolute;left:344px;top:31.7px;" width="24" height="24" viewBox="0 0 24 24" fill="#64748B"><path d="M12 8c1.100 0 2-.9 2-2s-.9-2-2-2-2 .9-2 2 .9 2 2 2zm0 2c-1.100 0-2 .9-2 2s.9 2 2 2 2-.9 2-2-.9-2-2-2zm0 6c-1.100 0-2 .9-2 2s.9 2 2 2 2-.9 2-2-.9-2-2-2z"/></svg>
<span class="t" style="left:24.5px;top:80.50px;font-size:14px;line-height:21px;color:#27303F;letter-spacing:0.432px;">Last month; you had <b>223</b> expense transactions, <b>12</b></span>
<span class="t" style="left:24.5px;top:101.50px;font-size:14px;line-height:21px;color:#27303F;letter-spacing:0.380px;">savings entries and <b>4</b> bills.</span>
<span class="ibox" style="left:24px;top:154px;background:#FDE8E8"></span>
<svg style="position:absolute;left:40px;top:170px;" width="24" height="24" viewBox="0 0 24 24" fill="none" stroke="#771D1D" stroke-width="2" stroke-linecap="round" stroke-linejoin="round"><path d="M3 10h18M7 15h1m4 0h1m-7 4h12a3 3 0 003-3V8a3 3 0 00-3-3H6a3 3 0 00-3 3v8a3 3 0 003 3z"/></svg>
<span class="t" style="left:96px;top:153.30px;font-size:10px;line-height:15px;color:#97A6BA;font-weight:700;letter-spacing:0.154px;">EXPENSES</span>
<span class="t" style="left:96px;top:169.00px;font-size:20px;line-height:28px;color:#27303F;letter-spacing:0.486px;-webkit-text-stroke:0.4px #27303F;">$11,763.34</span>
<span class="bar" style="left:96px;top:205px;width:184px;background:#FDE8E8"><i style="width:108px;background:#C81E1E"></i></span>
<span class="t" style="right:45px;top:191.20px;font-size:15.5px;line-height:23px;color:#27303F;letter-spacing:-0.115px;">2.6%</span>
<svg style="position:absolute;left:360px;top:194px;" width="16" height="16" viewBox="0 0 24 24" fill="none" stroke="#3F83F8" stroke-width="2" stroke-linecap="round" stroke-linejoin="round"><path d="M19 14l-7 7m0 0l-7-7m7 7V3"/></svg>
<span class="ibox" style="left:24px;top:242px;background:#E5EDFF"></span>
<svg style="position:absolute;left:40px;top:258px;" width="24" height="24" viewBox="0 0 24 24" fill="none" stroke="#362F78" stroke-width="2" stroke-linecap="round" stroke-linejoin="round"><path d="M17 9V7a2 2 0 00-2-2H5a2 2 0 00-2 2v6a2 2 0 002 2h2m2 4h10a2 2 0 002-2v-6a2 2 0 00-2-2H9a2 2 0 00-2 2v6a2 2 0 002 2zm7-5a2 2 0 11-4 0 2 2 0 014 0z"/></svg>
<span class="t" style="left:96px;top:241.30px;font-size:10px;line-height:15px;color:#97A6BA;font-weight:700;letter-spacing:0.453px;">SAVINGS</span>
<span class="t" style="left:96px;top:257.00px;font-size:20px;line-height:28px;color:#27303F;letter-spacing:-0.012px;-webkit-text-stroke:0.4px #27303F;">$10,974.12</span>
<span class="bar" style="left:96px;top:293px;width:184px;background:#E5EDFF"><i style="width:8px;background:#6875F5"></i></span>
<span class="t" style="right:45px;top:279.20px;font-size:15.5px;line-height:23px;color:#27303F;letter-spacing:-0.488px;">12.7%</span>
<svg style="position:absolute;left:360px;top:282px;" width="16" height="16" viewBox="0 0 24 24" fill="none" stroke="#3F83F8" stroke-width="2" stroke-linecap="round" stroke-linejoin="round"><path d="M5 10l7-7m0 0l7 7m-7-7v18"/></svg>
<span class="ibox" style="left:24px;top:330px;background:#D5F5F6"></span>
<svg style="position:absolute;left:40px;top:346px;" width="24" height="24" viewBox="0 0 24 24" fill="none" stroke="#014451" stroke-width="2" stroke-linecap="round" stroke-linejoin="round"><path d="M9.663 17h4.673M12 3v1m6.364 1.636l-.707.707M21 12h-1M4 12H3m3.343-5.657l-.707-.707m2.828 9.9a5 5 0 117.072 0l-.548.547A3.374 3.374 0 0014 18.469V19a2 2 0 11-4 0v-.531c0-.895-.356-1.754-.988-2.386l-.548-.547z"/></svg>
<span class="t" style="left:96px;top:329.30px;font-size:10px;line-height:15px;color:#97A6BA;font-weight:700;letter-spacing:0.127px;">BILLS</span>
<span class="t" style="left:96px;top:345.00px;font-size:20px;line-height:28px;color:#27303F;letter-spacing:0.439px;-webkit-text-stroke:0.4px #27303F;">$1,789.22</span>
<span class="bar" style="left:96px;top:381px;width:184px;background:#E5EDFF"><i style="width:184px;background:#6875F5"></i></span>
<span class="t" style="right:45px;top:367.20px;font-size:15.5px;line-height:23px;color:#27303F;letter-spacing:-0.116px;">105.7%</span>
<svg style="position:absolute;left:360px;top:370px;" width="16" height="16" viewBox="0 0 24 24" fill="none" stroke="#3F83F8" stroke-width="2" stroke-linecap="round" stroke-linejoin="round"><path d="M5 10l7-7m0 0l7 7m-7-7v18"/></svg>
<span class="t" style="left:24.5px;top:401.70px;font-size:12px;line-height:18px;color:#97A6BA;letter-spacing:0.286px;">Exceeded your personal limit on <b>bills</b>! Be careful next month.</span>
<div class="btn" style="left:24px;top:461px;width:202px;background:#fff">
<svg style="position:absolute;left:15px;top:7px;" width="24" height="24" viewBox="0 0 24 24" fill="#6875F5"><path d="M19.210 12.040l-1.530-.11-.3-1.500C16.880 7.860 14.620 6 12 6 9.940 6 8.080 7.140 7.130 8.970l-.5.95-1.070.11C3.530 10.240 2 11.950 2 14c0 2.210 1.790 4 4 4h13c1.650 0 3-1.350 3-3 0-1.550-1.220-2.860-2.790-2.960zM12 17l-4-4h2.550v-3h2.910v3H16l-4 4z" opacity="0.3"/><path d="M19.350 10.040C18.670 6.590 15.640 4 12 4 9.110 4 6.600 5.640 5.350 8.040 2.340 8.360 0 10.910 0 14c0 3.310 2.690 6 6 6h13c2.760 0 5-2.240 5-5 0-2.640-2.050-4.780-4.650-4.960zM19 18H6c-2.210 0-4-1.790-4-4 0-2.050 1.530-3.760 3.560-3.970l1.070-.11.5-.95C8.080 7.140 9.940 6 12 6c2.620 0 4.880 1.860 5.390 4.430l.3 1.500 1.530.11c1.560.1 2.780 1.410 2.780 2.960 0 1.650-1.350 3-3 3zm-5.550-8h-2.900v3H8l4 4 4-4h-2.550z"/></svg>
<span class="t" style="left:51.4px;top:8.90px;font-size:14px;line-height:21px;color:#6875F5;letter-spacing:0.516px;-webkit-text-stroke:0.3px #6875F5;">Download Summary</span>
</div>
</section>
</main>
</body>
</html>
